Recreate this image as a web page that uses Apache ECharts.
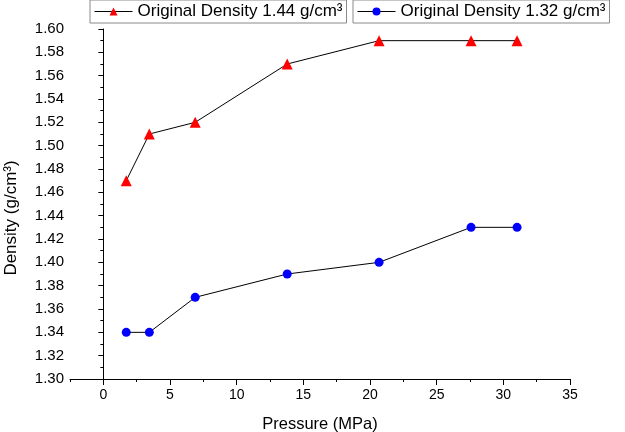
<!DOCTYPE html>
<html>
<head>
<meta charset="utf-8">
<script src="https://cdn.jsdelivr.net/npm/echarts@6/dist/echarts.min.js"></script>
<style>
  html, body { margin: 0; padding: 0; background: #fff; }
  #main { width: 625px; height: 432px; }
</style>
</head>
<body>
<div id="main"></div>
<script>
var pressure = [1.72, 3.45, 6.89, 13.79, 20.68, 27.58, 31.03];
var density144 = [1.47, 1.51, 1.52, 1.57, 1.59, 1.59, 1.59];
var density132 = [1.34, 1.34, 1.37, 1.39, 1.40, 1.43, 1.43];
var xMajorTicks = [0, 5, 10, 15, 20, 25, 30, 35];
var name144 = 'Original Density 1.44 g/cm³';
var name132 = 'Original Density 1.32 g/cm³';

var font = 'Liberation Sans, Arial, sans-serif';
var myChart = echarts.init(document.getElementById('main'));

function pairs(ys) {
    return pressure.map(function (p, i) { return [p, ys[i]]; });
}

var legendBase = {
    top: 0,
    orient: 'horizontal',
    borderColor: '#8a8a8a',
    borderWidth: 1,
    padding: [3, 4, 3, 4],
    itemWidth: 38,
    itemHeight: 10,
    lineStyle: { width: 1, color: '#000' },
    textStyle: { fontFamily: font, fontSize: 17, color: '#000' }
};

var option = {
    animation: false,
    legend: [
        Object.assign({}, legendBase, { left: 90, data: [name144] }),
        Object.assign({}, legendBase, { left: 353, data: [name132] })
    ],
    grid: { left: 70, right: 55, top: 29, bottom: 53, outerBoundsMode: 'none' },
    xAxis: [{
        type: 'value',
        min: -2.5,
        max: 35,
        interval: 2.5,
        name: 'Pressure (MPa)',
        nameLocation: 'middle',
        nameGap: 37,
        nameTextStyle: { fontFamily: font, fontSize: 16.5, color: '#000' },
        axisLine: { show: true, lineStyle: { color: '#000', width: 1 } },
        axisTick: { show: true, length: 3, lineStyle: { color: '#000' } },
        axisLabel: {
            fontFamily: font, fontSize: 14, color: '#000', margin: 9,
            formatter: function (v) { return (v % 5 === 0) ? String(v) : ''; }
        },
        splitLine: { show: false }
    }, {
        type: 'value',
        min: -2.5,
        max: 35,
        interval: 2.5,
        position: 'bottom',
        axisLine: { show: false },
        axisTick: { show: true, length: 6, customValues: xMajorTicks, lineStyle: { color: '#000' } },
        axisLabel: { show: false },
        splitLine: { show: false }
    }],
    yAxis: {
        type: 'value',
        min: 1.30,
        max: 1.60,
        interval: 0.02,
        name: 'Density (g/cm³)',
        nameLocation: 'middle',
        nameGap: 50,
        nameTextStyle: { fontFamily: font, fontSize: 17, color: '#000', padding: [0, 28, 0, 0] },
        axisLine: { show: true, lineStyle: { color: '#000', width: 1 } },
        axisTick: { show: true, length: 5, lineStyle: { color: '#000' } },
        minorTick: { show: true, splitNumber: 2, length: 3, lineStyle: { color: '#000' } },
        axisLabel: {
            fontFamily: font, fontSize: 15, color: '#000', margin: 6,
            formatter: function (v) { return v.toFixed(2); }
        },
        splitLine: { show: false }
    },
    series: [{
        name: name144,
        type: 'line',
        data: pairs(density144),
        symbol: 'triangle',
        symbolSize: 11,
        itemStyle: { color: '#ff0000' },
        lineStyle: { color: '#000', width: 1 }
    }, {
        name: name132,
        type: 'line',
        data: pairs(density132),
        symbol: 'circle',
        symbolSize: 9,
        itemStyle: { color: '#0000ff' },
        lineStyle: { color: '#000', width: 1 }
    }]
};

myChart.setOption(option);
</script>
</body>
</html>
